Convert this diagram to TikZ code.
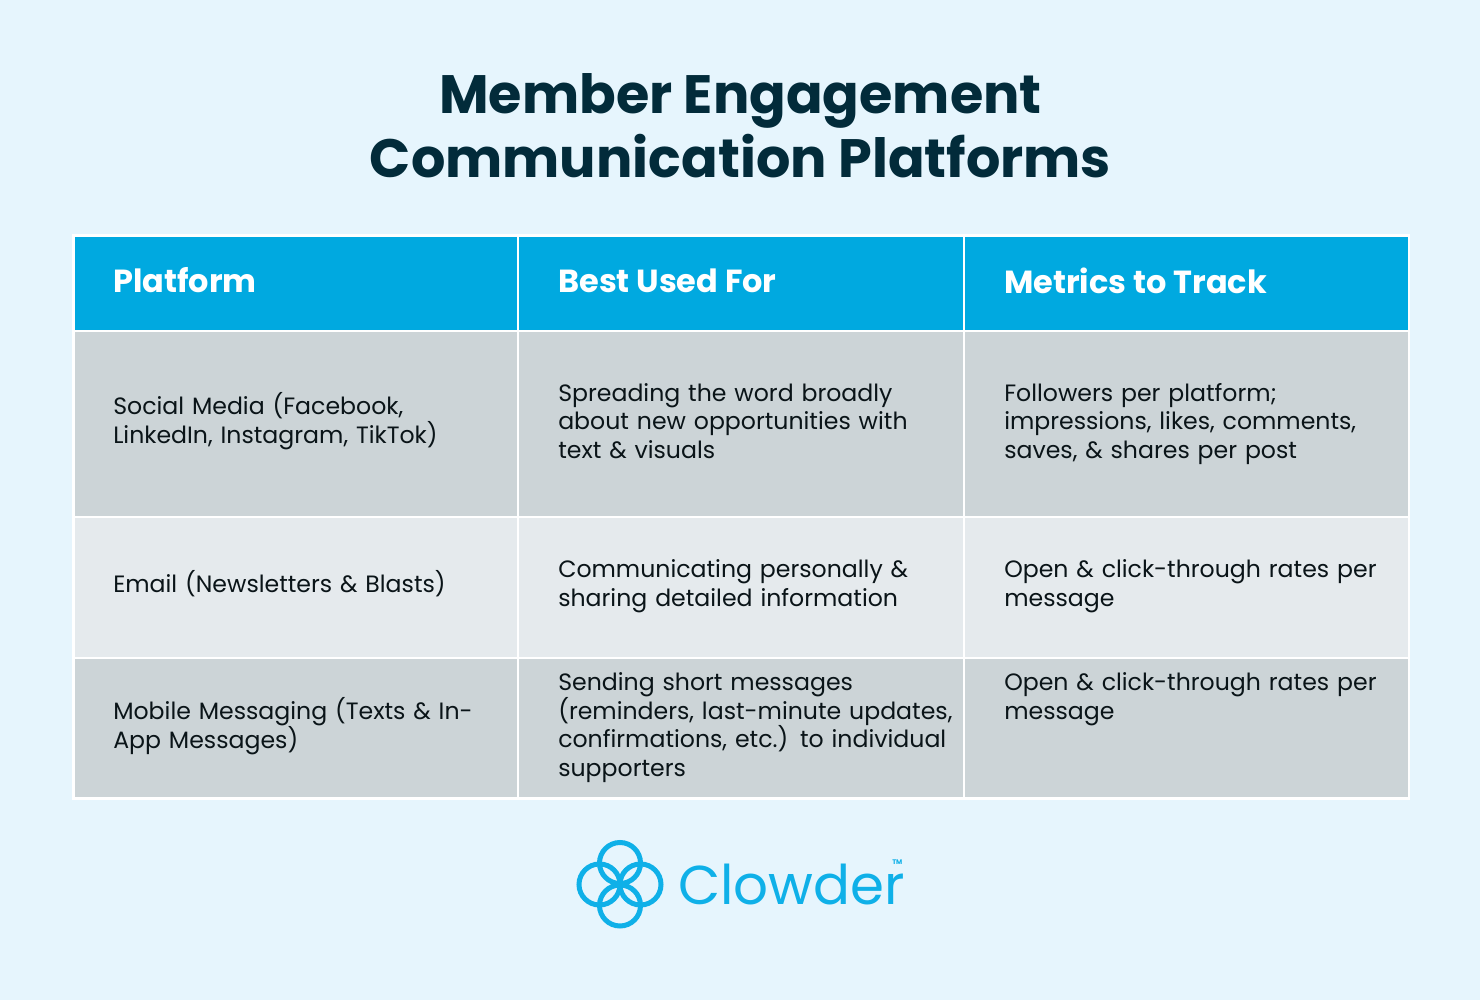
\documentclass[tikz,border=0pt]{standalone}
\usepackage{fontspec}
\setmainfont{Poppins}
\definecolor{pagebg}{HTML}{E6F5FD}
\definecolor{titleink}{HTML}{022B3A}
\definecolor{headblue}{HTML}{00A9E0}
\definecolor{logoblue}{HTML}{0FB0E8}
\definecolor{rowdark}{HTML}{CCD4D7}
\definecolor{rowlight}{HTML}{E5EAED}
\definecolor{bodyink}{HTML}{0A1418}
\tikzset{
    headcell/.style={draw=white, line width=0.06cm, fill=headblue},
    darkcell/.style={draw=white, line width=0.06cm, fill=rowdark},
    lightcell/.style={draw=white, line width=0.06cm, fill=rowlight},
    celltext/.style={anchor=west, text width=11.4cm, align=left, font=\fontsize{0.6cm}{0.73cm}\selectfont, text=bodyink, inner sep=0pt},
    headtext/.style={anchor=west, font=\fontsize{0.812cm}{1cm}\selectfont\bfseries, text=white, inner sep=0pt},
    ring/.style={draw=logoblue, line width=0.127cm}
}
\begin{document}
\begin{tikzpicture}[x=0.0254cm, y=-0.0254cm]
    \useasboundingbox[fill=pagebg] (0,0) rectangle (1480,1000);
    % Title
    \node[font=\fontsize{1.373cm}{1.63cm}\selectfont\bfseries, text=titleink, align=center] (title) at (740.5,126) {Member Engagement\\Communication Platforms};
    % Table cells
    \draw[headcell] (73.5,235.5) rectangle (518,331);
    \draw[headcell] (518,235.5) rectangle (964,331);
    \draw[headcell] (964,235.5) rectangle (1409,331);
    \draw[darkcell] (73.5,331) rectangle (518,517);
    \draw[darkcell] (518,331) rectangle (964,517);
    \draw[darkcell] (964,331) rectangle (1409,517);
    \draw[lightcell] (73.5,517) rectangle (518,658);
    \draw[lightcell] (518,517) rectangle (964,658);
    \draw[lightcell] (964,517) rectangle (1409,658);
    \draw[darkcell] (73.5,658) rectangle (518,798.5);
    \draw[darkcell] (518,658) rectangle (964,798.5);
    \draw[darkcell] (964,658) rectangle (1409,798.5);
    % Header row
    \node[headtext] (platform) at (113,280.5) {Platform};
    \node[headtext] (bestused) at (558,281) {Best Used For};
    \node[headtext] (metrics) at (1004,280.5) {Metrics to Track};
    % Social media row
    \node[celltext] (social) at (113,421) {Social Media (Facebook,\\LinkedIn, Instagram, TikTok)};
    \node[celltext] (socialuse) at (558,421) {Spreading the word broadly\\about new opportunities with\\text \& visuals};
    \node[celltext] (socialtrack) at (1004,424) {Followers per platform;\\impressions, likes, comments,\\saves, \& shares per post};
    % Email row
    \node[celltext] (email) at (113,584) {Email (Newsletters \& Blasts)};
    \node[celltext] (emailuse) at (558,586) {Communicating personally \&\\sharing detailed information};
    \node[celltext] (emailtrack) at (1004,586) {Open \& click-through rates per\\message};
    % Mobile row
    \node[celltext] (mobile) at (113,726) {Mobile Messaging (Texts \& In-\\App Messages)};
    \node[celltext] (mobileuse) at (558,727.5) {Sending short messages\\(reminders, last-minute updates,\\confirmations, etc.) to individual\\supporters};
    \node[celltext] (mobiletrack) at (1004,699) {Open \& click-through rates per\\message};
    % Logo
    \draw[ring] (620,863) circle (20.5);
    \draw[ring] (620,905.5) circle (20.5);
    \draw[ring] (599.5,884.5) circle (20.5);
    \draw[ring] (640.5,884.5) circle (20.5);
    \node[anchor=west, font=\fontsize{1.39cm}{1.6cm}\selectfont, text=logoblue, inner sep=0pt] (logotext) at (678,884) {Clowder};
    \node[anchor=west, font=\fontsize{0.17cm}{0.2cm}\selectfont\bfseries, text=logoblue, inner sep=0pt] (tm) at (892,862) {TM};
\end{tikzpicture}
\end{document}
